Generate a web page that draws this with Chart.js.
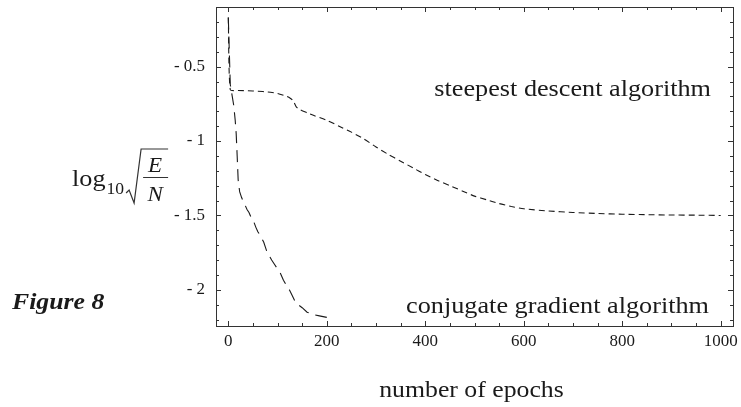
<!DOCTYPE html>
<html>
<head>
<meta charset="utf-8">
<script src="https://cdn.jsdelivr.net/npm/chart.js@4.4.1/dist/chart.umd.min.js"></script>
<style>
  html, body { margin: 0; padding: 0; background: #fff; }
  #wrap { width: 741px; height: 407px; }
</style>
</head>
<body>
<div id="wrap"><canvas id="errChart" width="741" height="407"></canvas></div>
<script>
// training error per epoch, log10 sqrt(E/N)
const sdEpochs = [0, 4, 20, 40, 60, 80, 100, 115, 125, 132, 138, 146, 160, 175, 200, 225, 250, 275, 300, 325, 350, 375, 400, 425, 450, 475, 500, 525, 550, 575, 600, 650, 700, 750, 800, 850, 900, 950, 1000];
const sdValues = [-0.17, -0.655, -0.66, -0.662, -0.665, -0.67, -0.68, -0.695, -0.71, -0.73, -0.77, -0.79, -0.81, -0.83, -0.86, -0.9, -0.94, -0.985, -1.04, -1.09, -1.135, -1.18, -1.225, -1.265, -1.3, -1.335, -1.37, -1.395, -1.42, -1.44, -1.455, -1.47, -1.48, -1.487, -1.492, -1.495, -1.497, -1.498, -1.5];

const cgEpochs = [0, 4, 8, 11, 14, 16, 18, 20, 23, 27, 31, 34, 38, 42, 47, 52, 56, 60, 66, 72, 78, 83, 88, 94, 100, 106, 112, 118, 124, 130, 136, 142, 150, 160, 170, 185, 200];
const cgValues = [-0.17, -0.62, -0.7, -0.76, -0.86, -0.95, -1.1, -1.26, -1.34, -1.38, -1.41, -1.43, -1.46, -1.48, -1.52, -1.545, -1.58, -1.61, -1.64, -1.68, -1.74, -1.77, -1.8, -1.83, -1.86, -1.89, -1.935, -1.97, -2.0, -2.04, -2.08, -2.1, -2.12, -2.15, -2.165, -2.175, -2.185];

const xMajor = [0, 200, 400, 600, 800, 1000];
const xMajorLabels = ['0', '200', '400', '600', '800', '1000'];
const xMinorStep = 50;
const yMajor = [-0.5, -1, -1.5, -2];
const yMajorLabels = ['- 0.5', '- 1', '- 1.5', '- 2'];
const yMinorStep = 0.1;

const SERIF = '"Liberation Serif", "Times New Roman", serif';
const INK = '#1a1a1a';

function toPoints(xs, ys) {
  return xs.map((x, i) => ({ x, y: ys[i] }));
}

// text drawn slightly wider than the font, like the original figure
function wideText(ctx, text, x, y, font, sx, align) {
  ctx.save();
  ctx.font = font;
  const w = ctx.measureText(text).width * sx;
  let left = x;
  if (align === 'right') left = x - w;
  else if (align === 'center') left = x - w / 2;
  ctx.translate(left, y);
  ctx.scale(sx, 1);
  ctx.textAlign = 'left';
  ctx.fillText(text, 0, 0);
  ctx.restore();
  return left + w;
}

const framePlugin = {
  id: 'frame',
  afterDraw(chart) {
    const { ctx, chartArea: a, scales } = chart;
    const xs = scales.x, ys = scales.y;
    ctx.save();
    ctx.strokeStyle = '#333';
    ctx.fillStyle = INK;
    ctx.lineWidth = 1;

    // frame
    ctx.strokeRect(Math.round(a.left) + 0.5, Math.round(a.top) + 0.5,
      Math.round(a.right - a.left), Math.round(a.bottom - a.top));

    // inward ticks on all four sides
    ctx.beginPath();
    for (let v = 0; v <= 1000; v += xMinorStep) {
      const px = Math.round(xs.getPixelForValue(v)) + 0.5;
      const len = xMajor.includes(v) ? 5 : 3;
      ctx.moveTo(px, a.bottom); ctx.lineTo(px, a.bottom - len);
      ctx.moveTo(px, a.top); ctx.lineTo(px, a.top + len);
    }
    for (let k = -22; k <= -2; k++) {
      const v = k * yMinorStep;
      const py = Math.round(ys.getPixelForValue(v)) + 0.5;
      const len = yMajor.some(m => Math.abs(m - v) < 1e-9) ? 5 : 3;
      ctx.moveTo(a.left, py); ctx.lineTo(a.left + len, py);
      ctx.moveTo(a.right, py); ctx.lineTo(a.right - len, py);
    }
    ctx.stroke();

    // tick labels
    const tickFont = '16px ' + SERIF;
    ctx.textBaseline = 'middle';
    xMajor.forEach((v, i) => {
      wideText(ctx, xMajorLabels[i], xs.getPixelForValue(v), 342, tickFont, 1.06, 'center');
    });
    yMajor.forEach((v, i) => {
      wideText(ctx, yMajorLabels[i], 205, ys.getPixelForValue(v), tickFont, 1.06, 'right');
    });

    // curve names
    ctx.textBaseline = 'alphabetic';
    const noteFont = '23px ' + SERIF;
    wideText(ctx, 'steepest descent algorithm', 711, 96, noteFont, 1.14, 'right');
    wideText(ctx, 'conjugate gradient algorithm', 709, 313, noteFont, 1.14, 'right');

    // x axis title, centred on the frame
    wideText(ctx, 'number of epochs', (a.left + a.right) / 2 - 3, 397, '23px ' + SERIF, 1.12, 'center');

    // y axis title: log10 sqrt(E/N)
    const ly = 186;
    let x = wideText(ctx, 'log', 72, ly, '23px ' + SERIF, 1.14, 'left');
    x = wideText(ctx, '10', x + 1, ly + 8, '16px ' + SERIF, 1.1, 'left');
    const rx = x + 2;
    ctx.beginPath();
    ctx.lineWidth = 1.2;
    ctx.moveTo(rx, ly + 7);
    ctx.lineTo(rx + 3, ly + 4);
    ctx.lineTo(rx + 8, ly + 17);
    ctx.lineTo(rx + 15, ly - 37);
    ctx.lineTo(rx + 42, ly - 37);
    ctx.stroke();
    const fx = rx + 29;
    wideText(ctx, 'E', fx, ly - 14, 'italic 21px ' + SERIF, 1.1, 'center');
    ctx.beginPath();
    ctx.lineWidth = 1;
    ctx.moveTo(fx - 12, ly - 8.5); ctx.lineTo(fx + 13, ly - 8.5);
    ctx.stroke();
    wideText(ctx, 'N', fx, ly + 15, 'italic 21px ' + SERIF, 1.1, 'center');

    // figure caption
    wideText(ctx, 'Figure 8', 12, 309, 'bold italic 23px ' + SERIF, 1.12, 'left');
    ctx.restore();
  }
};

function renderChart() {
  const el = document.getElementById('errChart');
  new Chart(el.getContext('2d'), {
    type: 'line',
    data: {
      datasets: [
        {
          label: 'steepest descent algorithm',
          data: toPoints(sdEpochs, sdValues),
          borderColor: INK,
          borderWidth: 1.1,
          borderDash: [6, 4],
          pointRadius: 0,
          tension: 0.2
        },
        {
          label: 'conjugate gradient algorithm',
          data: toPoints(cgEpochs, cgValues),
          borderColor: INK,
          borderWidth: 1.1,
          borderDash: [12, 7],
          pointRadius: 0,
          tension: 0
        }
      ]
    },
    options: {
      responsive: false,
      animation: false,
      layout: { padding: { left: 216, top: 7, right: 8, bottom: 81 } },
      plugins: { legend: { display: false }, tooltip: { enabled: false } },
      scales: {
        x: { type: 'linear', min: -25, max: 1025, display: false },
        y: { type: 'linear', min: -2.243, max: -0.099, display: false }
      }
    },
    plugins: [framePlugin]
  });
}

document.addEventListener('DOMContentLoaded', renderChart);
</script>
</body>
</html>
